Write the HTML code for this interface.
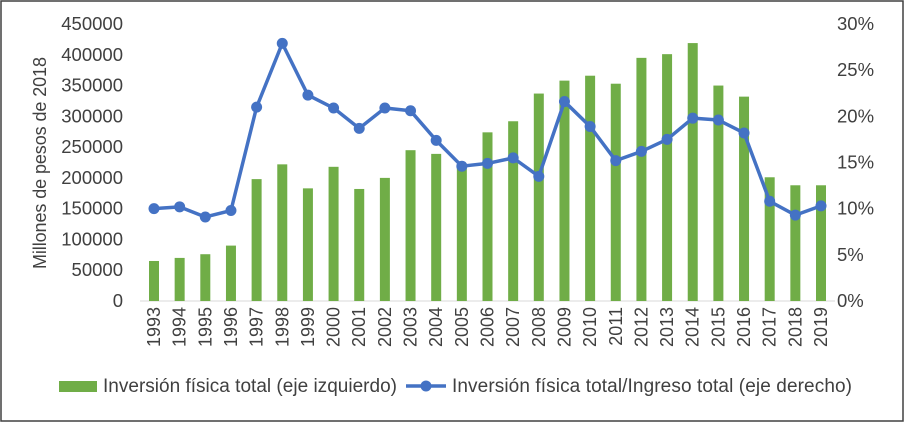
<!DOCTYPE html>
<html><head><meta charset="utf-8"><style>
body{margin:0;background:#fff}
#c{position:absolute;left:0;top:0;width:904px;height:422px}
text{font-family:"Liberation Sans",sans-serif;fill:#404040}
</style></head><body>
<svg id="c" width="904" height="422">
<rect x="1" y="1" width="902" height="420" fill="#fff" stroke="#404040" stroke-width="1.5"/>
<g id="plot"></g>
</svg>
<script>
const years=[1993,1994,1995,1996,1997,1998,1999,2000,2001,2002,2003,2004,2005,2006,2007,2008,2009,2010,2011,2012,2013,2014,2015,2016,2017,2018,2019];
const inversion=[65000,70000,76000,90000,198000,222000,183000,218000,182000,200000,245000,239000,216000,274000,292000,337000,358000,366000,353000,395000,401000,419000,350000,332000,201000,188000,188000];
const ratio=[10.0,10.2,9.1,9.8,21.0,27.9,22.3,20.9,18.7,20.9,20.6,17.4,14.6,14.9,15.5,13.5,21.6,18.9,15.2,16.2,17.5,19.8,19.6,18.2,10.8,9.3,10.3];
const leftTicks=[0,50000,100000,150000,200000,250000,300000,350000,400000,450000];
const rightTicks=[0,5,10,15,20,25,30];
const NS="http://www.w3.org/2000/svg";
const g=document.getElementById('plot');
const y0=301,yTop=24,x0=154,x1=821;
const yL=v=>y0-(v/450000)*(y0-yTop);
const yR=v=>y0-(v/30)*(y0-yTop);
const xS=i=>x0+i*(x1-x0)/(years.length-1);
function mk(t,a){const e=document.createElementNS(NS,t);for(const k in a)e.setAttribute(k,a[k]);g.appendChild(e);return e;}
leftTicks.forEach(v=>{const t=mk('text',{x:123,y:yL(v)+6,'text-anchor':'end','font-size':'18.5'});t.textContent=v;

});
rightTicks.forEach(v=>{const t=mk('text',{x:837,y:yR(v)+6,'font-size':'18.5'});t.textContent=v+'%';

});
const ax=mk('line',{x1:140,x2:835,y1:y0,y2:y0,stroke:'#d9d9d9','stroke-width':1});


inversion.forEach((v,i)=>{const r=mk('rect',{x:xS(i)-5,y:yL(v),width:10,height:y0-yL(v),fill:'#70AD47'});

});
const pl=mk('polyline',{points:ratio.map((v,i)=>xS(i)+','+yR(v)).join(' '),fill:'none',stroke:'#4472C4','stroke-width':3.5,'stroke-linejoin':'round'});


ratio.forEach((v,i)=>{const c=mk('circle',{cx:xS(i),cy:yR(v),r:5.5,fill:'#4472C4'});

});
years.forEach((yr,i)=>{const t=mk('text',{x:0,y:0,'text-anchor':'end','font-size':'18',transform:`translate(${xS(i)+6},${307}) rotate(-90)`});t.textContent=yr;

});
const yt=mk('text',{x:0,y:0,'text-anchor':'middle','font-size':'18','textLength':'212',transform:'translate(46,163) rotate(-90)'});yt.textContent='Millones de pesos de 2018';


const lb=mk('rect',{x:59,y:381,width:38,height:11,fill:'#70AD47'});


const lt1=mk('text',{x:103,y:392,'font-size':'19','textLength':'294'});lt1.textContent='Inversión física total (eje izquierdo)';


const ll=mk('line',{x1:406,x2:446,y1:386,y2:386,stroke:'#4472C4','stroke-width':3.5});


const lc=mk('circle',{cx:426,cy:386,r:5.5,fill:'#4472C4'});


const lt2=mk('text',{x:452,y:392,'font-size':'19','textLength':'400'});lt2.textContent='Inversión física total/Ingreso total (eje derecho)';


</script>
</body></html>
